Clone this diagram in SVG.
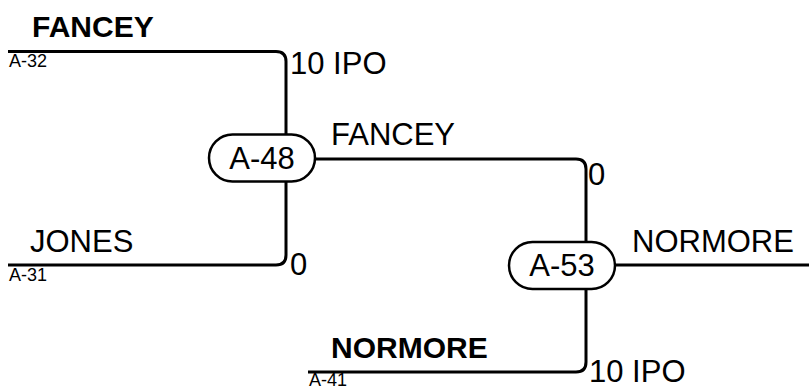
<svg xmlns="http://www.w3.org/2000/svg" width="809" height="389" viewBox="0 0 809 389">
<style>
.ln{fill:none;stroke:#000;stroke-width:3}
.nd{fill:#fff;stroke:#000;stroke-width:2.5}
.t{font-family:"Liberation Sans",Arial,sans-serif;font-size:31px;fill:#000}
.b{font-weight:bold;font-size:30px}
.s{font-family:"Liberation Sans",Arial,sans-serif;font-size:18px;fill:#000}
.c{text-anchor:middle}
</style>
<rect width="809" height="389" fill="#fff"/>
<g id="connectors">
<path class="ln" d="M8,51.5 H276 Q286,51.5 286,61.5 V134"/>
<path class="ln" d="M286,181 V255 Q286,265 276,265 H8"/>
<path class="ln" d="M312,159 H576 Q586,159 586,169 V242"/>
<path class="ln" d="M586,289 V362 Q586,372 576,372 H308"/>
<path class="ln" d="M612,265 H809"/>
</g>
<g id="labels">
<text class="t b" x="32" y="37">FANCEY</text>
<text class="s" x="9" y="67">A-32</text>
<text class="t" x="290" y="74">10 IPO</text>
<text class="t" x="331" y="145">FANCEY</text>
<text class="t" x="588" y="185">0</text>
<text class="t" x="30" y="252">JONES</text>
<text class="s" x="9" y="281">A-31</text>
<text class="t" x="290" y="275">0</text>
<text class="t" x="632" y="252">NORMORE</text>
<text class="t b" x="331" y="358">NORMORE</text>
<text class="s" x="309" y="386">A-41</text>
<text class="t" x="589" y="382">10 IPO</text>
</g>
<g id="A-48">
<rect class="nd" x="209" y="134.5" width="106" height="47" rx="23.5"/>
<text class="t c" x="262" y="169">A-48</text>
</g>
<g id="A-53">
<rect class="nd" x="509" y="242" width="106" height="47" rx="23.5"/>
<text class="t c" x="562" y="276">A-53</text>
</g>
</svg>
